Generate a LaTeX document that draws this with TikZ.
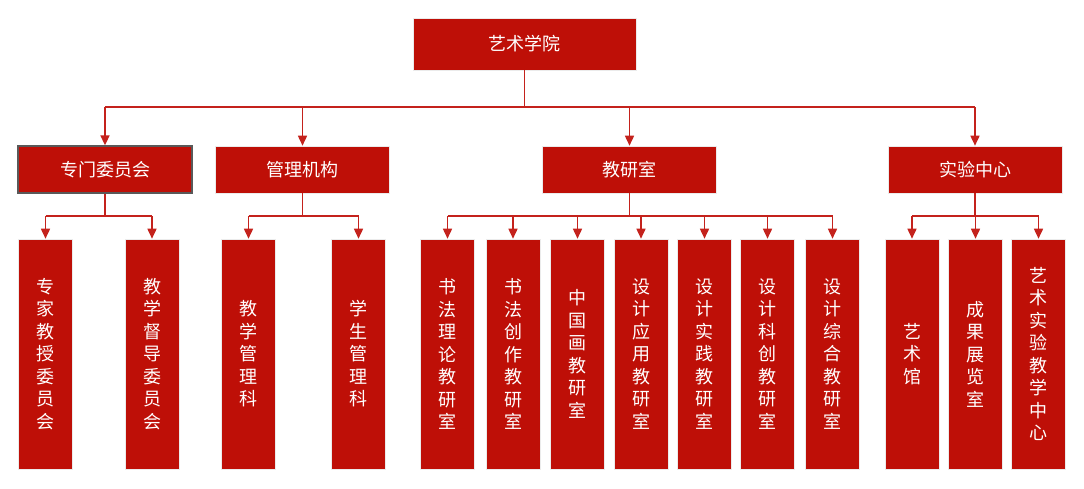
\documentclass[tikz,border=0pt]{standalone}
\usepackage{fontspec}
\newfontfamily\cjk{Noto Sans CJK SC}
\usetikzlibrary{arrows.meta}
\definecolor{rd}{HTML}{BE0F07}
\definecolor{ln}{HTML}{C4221C}
\begin{document}
\begin{tikzpicture}[x=1pt,y=-1pt,
  box/.style={rectangle,fill=rd,draw=black!8,line width=0.6pt,inner sep=0pt,text=white,
    font={\cjk\fontsize{18}{22.5}\selectfont}},
  topbox/.style={box,minimum width=223pt,minimum height=52pt},
  midbox/.style={box,minimum width=174pt,minimum height=47pt},
  leaf/.style={box,minimum width=54pt,minimum height=230pt,align=center},
  conn/.style={draw=ln,line width=1.6pt},
  arr/.style={conn,-{Triangle[length=10pt,width=9pt]}}]
\useasboundingbox (0,0) rectangle (1084,488);
\fill[white] (0,0) rectangle (1084,488);

\node[topbox] (top) at (524.5,44) {艺术学院};

\node[midbox,draw=black!65,line width=1.3pt] (m1) at (105,169.5) {专门委员会};
\node[midbox] (m2) at (302.5,169.5) {管理机构};
\node[midbox] (m3) at (629.5,169.5) {教研室};
\node[midbox] (m4) at (975,169.5) {实验中心};

\node[leaf] (a1) at (45.5,354) {专\\家\\教\\授\\委\\员\\会};
\node[leaf] (a2) at (152,354) {教\\学\\督\\导\\委\\员\\会};
\node[leaf] (b1) at (248.5,354) {教\\学\\管\\理\\科};
\node[leaf] (b2) at (358.5,354) {学\\生\\管\\理\\科};
\node[leaf] (c1) at (447.5,354) {书\\法\\理\\论\\教\\研\\室};
\node[leaf] (c2) at (513,354) {书\\法\\创\\作\\教\\研\\室};
\node[leaf] (c3) at (577.5,354) {中\\国\\画\\教\\研\\室};
\node[leaf] (c4) at (641,354) {设\\计\\应\\用\\教\\研\\室};
\node[leaf] (c5) at (704.5,354) {设\\计\\实\\践\\教\\研\\室};
\node[leaf] (c6) at (767.5,354) {设\\计\\科\\创\\教\\研\\室};
\node[leaf] (c7) at (832.5,354) {设\\计\\综\\合\\教\\研\\室};
\node[leaf] (d1) at (912,354) {艺\\术\\馆};
\node[leaf] (d2) at (975.5,354) {成\\果\\展\\览\\室};
\node[leaf] (d3) at (1038.5,354) {艺\\术\\实\\验\\教\\学\\中\\心};

% level 1 -> 2
\coordinate (j0) at (524.5,107);
\draw[conn] (top.south) -- (j0);
\draw[conn] (j0 -| m1) -- (j0 -| m4);
\foreach \n in {m1,m2,m3,m4} \draw[arr] (j0 -| \n) -- (\n.north);

% level 2 -> 3
\coordinate (ja) at (105,216);
\draw[conn] (m1.south) -- (ja);
\draw[conn] (ja -| a1) -- (ja -| a2);
\foreach \n in {a1,a2} \draw[arr] (ja -| \n) -- (\n.north);

\coordinate (jb) at (302.5,216);
\draw[conn] (m2.south) -- (jb);
\draw[conn] (jb -| b1) -- (jb -| b2);
\foreach \n in {b1,b2} \draw[arr] (jb -| \n) -- (\n.north);

\coordinate (jc) at (629.5,216);
\draw[conn] (m3.south) -- (jc);
\draw[conn] (jc -| c1) -- (jc -| c7);
\foreach \n in {c1,c2,c3,c4,c5,c6,c7} \draw[arr] (jc -| \n) -- (\n.north);

\coordinate (jd) at (975,216);
\draw[conn] (m4.south) -- (jd);
\draw[conn] (jd -| d1) -- (jd -| d3);
\foreach \n in {d1,d2,d3} \draw[arr] (jd -| \n) -- (\n.north);
\end{tikzpicture}
\end{document}
